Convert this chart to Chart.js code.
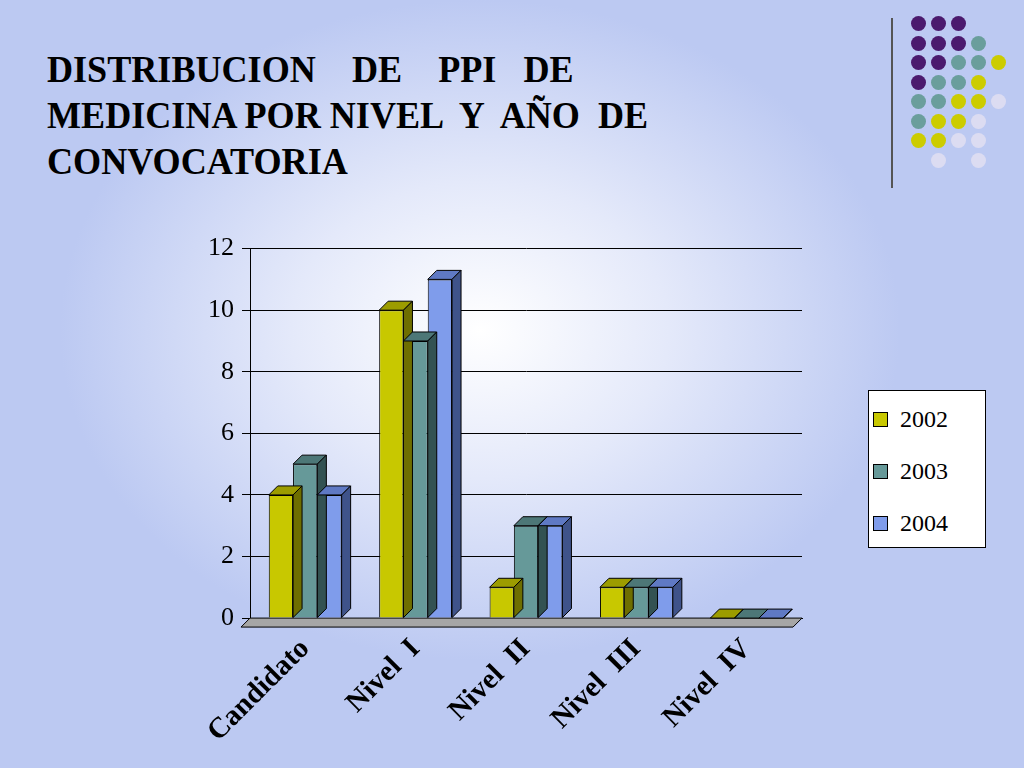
<!DOCTYPE html>
<html><head><meta charset="utf-8">
<script src="https://cdn.jsdelivr.net/npm/chart.js@4.4.1/dist/chart.umd.min.js"></script>
<style>
  html,body{margin:0;padding:0}
  body{width:1024px;height:768px;position:relative;overflow:hidden;
    background:radial-gradient(ellipse 420px 330px at 480px 330px,#ffffff 0%,#e4e9fa 45%,#bcc9f2 100%);
    font-family:"Liberation Serif","Times New Roman",serif}
  #title{position:absolute;left:47px;top:46px;font-size:38px;font-weight:bold;line-height:46px;color:#000;white-space:pre;transform:scaleX(0.95);transform-origin:left top}
  #vline{position:absolute;left:891px;top:18px;width:2px;height:170px;background:#555}
  .dot{position:absolute;width:15px;height:15px;border-radius:50%}
  #wrap{position:absolute;left:150px;top:225px;width:690px;height:530px}
  #legend{position:absolute;left:868px;top:390px;width:118px;height:158px;background:#fff;border:1px solid #000;box-sizing:border-box;padding-top:2px}
  .li{display:flex;align-items:center;height:52px;margin-left:4px;font-size:24px}
  .li span.sw{width:13px;height:13px;border:1px solid #000;margin-right:12px}
</style></head>
<body>
<div id="title">DISTRIBUCION    DE    PPI   DE
MEDICINA POR NIVEL  Y  AÑO  DE
CONVOCATORIA</div>
<div id="vline"></div>
<div id="dots"></div>
<div id="wrap"><canvas id="c"></canvas></div>
<div id="legend"></div>
<script>
const categories = ['Candidato', 'Nivel  I', 'Nivel  II', 'Nivel  III', 'Nivel  IV'];
const years = ['2002', '2003', '2004'];
const values2002 = [4, 10, 1, 1, 0];
const values2003 = [5, 9, 3, 1, 0];
const values2004 = [4, 11, 3, 1, 0];
const colors = ['#c8c800', '#669999', '#7f9ceb'];
const tops   = ['#9c9c00', '#4d7777', '#5f79c4'];
const sides  = ['#6e6e00', '#335252', '#3f538a'];

// decoration dots
const P='#4b1a6e',T='#6a9e9c',Y='#cccc00',L='#dcdcf2';
const dotRows = [[P,P,P],[P,P,P,T],[P,P,T,T,Y],[P,T,T,Y],[T,T,Y,Y,L],[T,Y,Y,L],[Y,Y,L,L],[null,L,null,L]];
const dotsEl = document.getElementById('dots');
dotRows.forEach((row, r) => row.forEach((col, i) => {
  if (!col) return;
  const d = document.createElement('div');
  d.className = 'dot'; d.style.background = col;
  d.style.left = (911 + i * 20) + 'px'; d.style.top = (16 + r * 19.5) + 'px';
  dotsEl.appendChild(d);
}));

document.getElementById('legend').innerHTML = years.map((y, i) =>
  `<div class="li"><span class="sw" style="background:${colors[i]}"></span>${y}</div>`).join('');

const D = 9; // 3d depth offset
const bars3d = {
  id: 'bars3d',
  beforeDatasetsDraw(chart) {
    const { ctx, chartArea: a, scales: { y } } = chart;
    const y0 = y.getPixelForValue(0);
    ctx.save();
    ctx.fillStyle = '#a6a6a6'; ctx.strokeStyle = '#000'; ctx.lineWidth = 1;
    ctx.beginPath();
    ctx.moveTo(a.left - D, y0 + D); ctx.lineTo(a.right - D, y0 + D);
    ctx.lineTo(a.right, y0); ctx.lineTo(a.left, y0); ctx.closePath();
    ctx.fill(); ctx.stroke();
    ctx.restore();
  },
  afterDatasetsDraw(chart) {
    const { ctx } = chart;
    ctx.save(); ctx.strokeStyle = '#000'; ctx.lineWidth = 1;
    chart.data.datasets.forEach((ds, di) => {
      chart.getDatasetMeta(di).data.forEach(bar => {
        const l = bar.x - bar.width / 2, r = bar.x + bar.width / 2, t = bar.y, b = bar.base;
        ctx.fillStyle = tops[di];
        ctx.beginPath(); ctx.moveTo(l, t); ctx.lineTo(l + D, t - D); ctx.lineTo(r + D, t - D); ctx.lineTo(r, t); ctx.closePath(); ctx.fill(); ctx.stroke();
        ctx.fillStyle = sides[di];
        ctx.beginPath(); ctx.moveTo(r, t); ctx.lineTo(r + D, t - D); ctx.lineTo(r + D, b - D); ctx.lineTo(r, b); ctx.closePath(); ctx.fill(); ctx.stroke();
      });
    });
    ctx.restore();
  }
};

new Chart(document.getElementById('c'), {
  type: 'bar',
  data: {
    labels: categories,
    datasets: [values2002, values2003, values2004].map((v, i) => ({
      label: years[i], data: v, backgroundColor: colors[i],
      borderColor: '#000', borderWidth: 1,
      categoryPercentage: 0.66, barPercentage: 1
    }))
  },
  plugins: [bars3d],
  options: {
    responsive: true, maintainAspectRatio: false, animation: false,
    layout: { padding: { top: 16, right: 38, left: 50, bottom: 0 } },
    plugins: { legend: { display: false }, tooltip: { enabled: false } },
    scales: {
      x: {
        offset: true,
        grid: { display: false },
        border: { color: '#000' },
        ticks: { color: '#000', maxRotation: 45, minRotation: 45, padding: 6,
          font: { family: 'Liberation Serif', size: 29, weight: 'bold' } }
      },
      y: {
        min: 0, max: 12,
        grid: { color: '#000', tickLength: 8 },
        border: { color: '#000' },
        ticks: { stepSize: 2, color: '#000', padding: 8,
          font: { family: 'Liberation Serif', size: 26 } }
      }
    }
  }
});
</script>
</body></html>
